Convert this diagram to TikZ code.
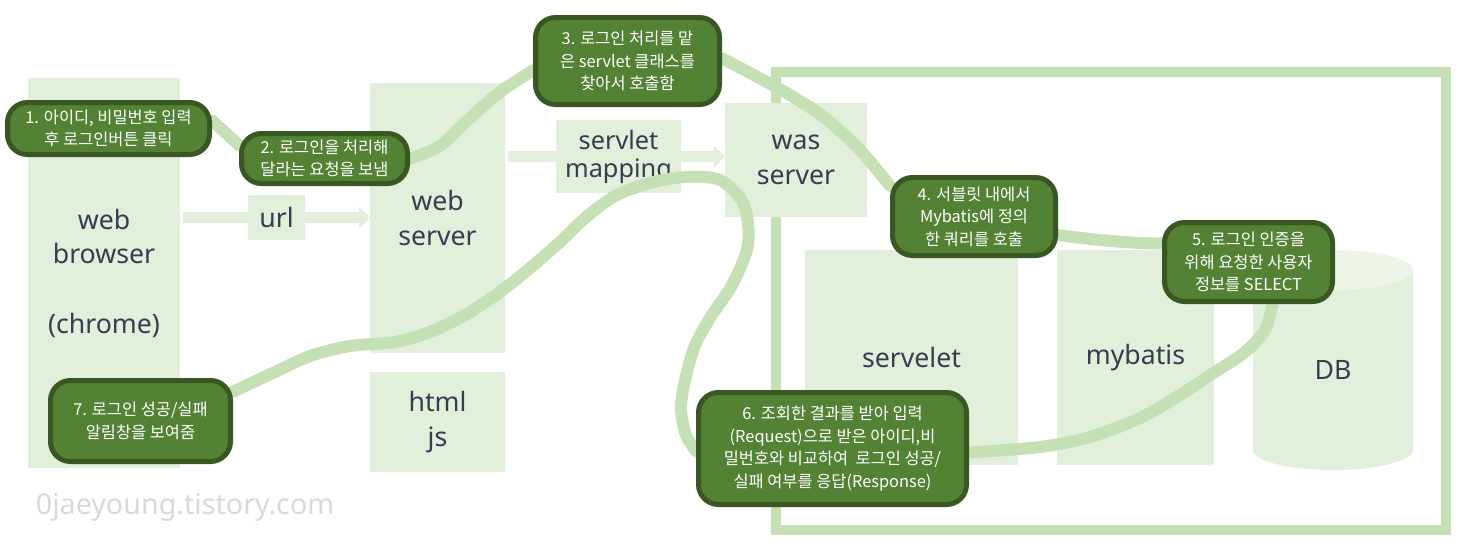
\documentclass[tikz,border=0pt]{standalone}
\usepackage{fontspec}
\setmainfont{Noto Sans CJK KR}
\newfontfamily\latinfont{Noto Sans}
\usetikzlibrary{arrows.meta}
\definecolor{lbox}{HTML}{E2EFDA}
\definecolor{ltop}{HTML}{EDF5E8}
\definecolor{flowc}{HTML}{C5E0B4}
\definecolor{dfill}{HTML}{548235}
\definecolor{dline}{HTML}{385723}
\definecolor{txt}{HTML}{333F50}
\definecolor{wmark}{HTML}{D9D9D9}
\pgfdeclarelayer{back}
\pgfdeclarelayer{mid}
\pgfsetlayers{back,mid,main}
\begin{document}
\begin{tikzpicture}[x=0.75pt,y=-0.75pt,
  sz/.style 2 args={minimum width={#1*0.75pt}, minimum height={#2*0.75pt}},
  lightbox/.style={fill=lbox, inner sep=0pt, align=center, text=txt,
    font=\latinfont\fontsize{20}{26}\selectfont},
  stepbox/.style={fill=dfill, draw=dline, line width=3.75pt, rounded corners=15pt,
    text=white, align=center, inner sep=0pt, font=\fontsize{12.3}{16.8}\selectfont},
  flow/.style={draw=flowc, line width=9pt, line cap=round, line join=round},
  fatarrow/.style={draw=lbox, line width=8pt, -{Triangle[length=8pt,width=16pt]}},
  bigframe/.style={draw=flowc, line width=7.5pt, inner sep=0pt}
]
\useasboundingbox (0,0) rectangle (1458,550);

\begin{pgfonlayer}{back}
  \node[bigframe, sz={670}{458}] (frame) at (1111,301) {};
  \node[lightbox, sz={152}{390}] (wb) at (104,273) {web\\browser\\[26pt](chrome)};
  \node[lightbox, sz={135}{270}] (ws) at (437.5,218) {web\\server};
  \node[lightbox, sz={135}{100}] (hj) at (437.5,422) {html\\js};
  \node[lightbox, sz={142}{114}] (was) at (796,160) {was\\server};
  \node[lightbox, sz={213}{215}] (sv) at (911.5,357.5) {servelet};
  \node[lightbox, sz={157}{215}] (mb) at (1135.5,357.5) {mybatis};
  \fill[lbox] (1253,270) -- (1253,450) arc[start angle=180, end angle=0, x radius=80, y radius=20]
    -- (1413,270) -- cycle;
  \fill[ltop] (1333,270) ellipse [x radius=80, y radius=20];
  \node[text=txt, font=\latinfont\fontsize{20}{26}\selectfont] (db) at (1333,370) {DB};
  \coordinate (urlrow) at (276.5,217.5);
  \coordinate (maprow) at (618.5,156.5);
  \draw[fatarrow] ([xshift=2pt]wb.east |- urlrow) -- (ws.west |- urlrow);
  \draw[fatarrow] ([xshift=2pt]ws.east |- maprow) -- (was.west |- maprow);
  \node[lightbox, sz={57}{45}] (url) at (urlrow) {url};
  \node[lightbox, sz={125}{73}, font=\latinfont\fontsize{19}{21}\selectfont] (sm) at (maprow) {servlet\\mapping};
\end{pgfonlayer}

\node[stepbox, sz={202}{52}] (s1) at (108.5,128.5) {1. 아이디, 비밀번호 입력\\후 로그인버튼 클릭};
\node[stepbox, sz={166}{50}] (s2) at (324.5,158.5) {2. 로그인을 처리해\\달라는 요청을 보냄};
\node[stepbox, sz={184}{87}] (s3) at (627.5,61) {3. 로그인 처리를 맡\\은 servlet 클래스를\\찾아서 호출함};
\node[stepbox, sz={163}{78}] (s4) at (974,216.5) {4. 서블릿 내에서\\Mybatis에 정의\\한 쿼리를 호출};
\node[stepbox, sz={168}{79}] (s5) at (1248.5,262) {5. 로그인 인증을\\위해 요청한 사용자\\정보를 SELECT};
\node[stepbox, sz={268}{112}] (s6) at (832.5,448.5) {6. 조회한 결과를 받아 입력\\(Request)으로 받은 아이디,비\\밀번호와 비교하여\ \ 로그인 성공/\\실패 여부를 응답(Response)};
\node[stepbox, sz={180}{81}] (s7) at (140.5,421) {7. 로그인 성공/실패\\알림창을 보여줌};

\node[text=wmark, font=\latinfont\fontsize{21.5}{24}\selectfont] (wm) at (185,507) {0jaeyoung.tistory.com};

\begin{pgfonlayer}{mid}
  \draw[flow] ([yshift=6pt]s1.east) -- ([yshift=10pt]s2.west);
  \draw[flow] plot[smooth] coordinates {(s2.east) (440,146) (470,118) (500,92) ([yshift=-7pt]s3.west)};
  \draw[flow] plot[smooth] coordinates {([yshift=2pt]s3.east) (750,73) (790,95) (825,118) (860,150) ([yshift=23pt]s4.west)};
  \draw[flow] plot[smooth] coordinates {([yshift=-14pt]s4.east) (1100,240) (1140,243) ([yshift=14pt]s5.west)};
  \draw[flow] plot[smooth] coordinates {([xshift=18pt]s5.south) (1265,330) (1245,352) (1215,372) (1180,395) (1140,418) (1090,437) (1040,447) ([yshift=-3pt]s6.east)};
  \draw[flow] plot[smooth] coordinates {([yshift=-2pt]s6.west) (686,435) (681,410) (684,385) (694,348) (710,318) (732,285) (748,245) (744,205) (720,180) (685,177) (650,183) (615,196) (585,218) (560,242) (530,268) (500,292) (465,315) (430,332) (395,342) (350,346) (310,356) (275,372) ([yshift=22pt]s7.east)};
\end{pgfonlayer}
\end{tikzpicture}
\end{document}
